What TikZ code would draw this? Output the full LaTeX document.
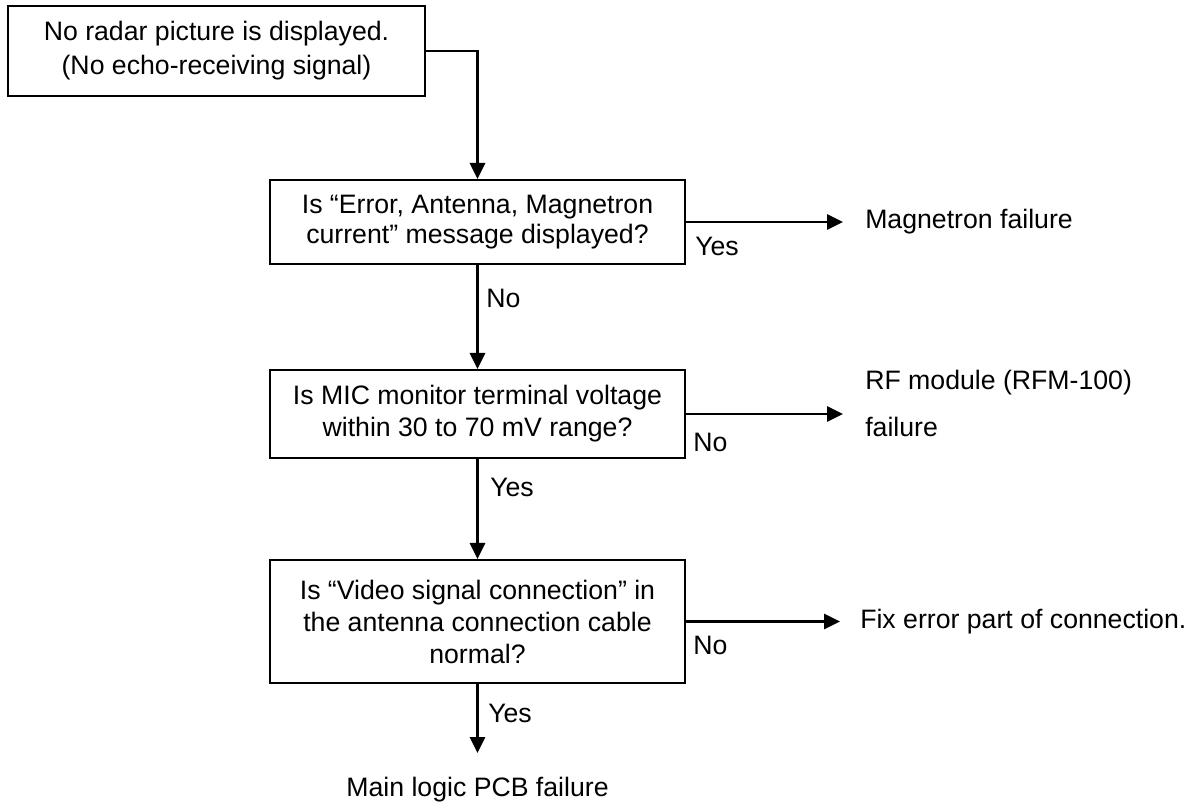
\documentclass[tikz,border=0pt]{standalone}
\usepackage{fontspec}
\setmainfont{Liberation Sans}
\usetikzlibrary{arrows.meta}
\begin{document}
\begin{tikzpicture}[x=0.75pt,y=-0.75pt,
  every node/.style={font=\fontsize{20}{24}\selectfont},
  box/.style={draw, line width=1.6pt, align=center, inner sep=0pt},
  arr/.style={line width=1.6pt, -{Triangle[length=12pt,width=11.5pt]}},
  lbl/.style={anchor=west, inner sep=0pt},
  rtext/.style={anchor=west, inner xsep=16.5pt, inner ysep=0pt, align=left}]
\useasboundingbox (0,0) rectangle (1196,805);
\node[box, minimum width=312.75pt, minimum height=67.5pt, font=\fontsize{20}{25.5}\selectfont] (b1) at (216.5,51)
  {No radar picture is displayed.\\(No echo-receiving signal)};
\node[box, minimum width=311.25pt, minimum height=63pt, font=\fontsize{20}{22.5}\selectfont] (b2) at (477.5,222)
  {Is “Error, Antenna, Magnetron\\current” message displayed?};
\node[box, minimum width=311.25pt, minimum height=66pt] (b3) at (477.5,414)
  {Is MIC monitor terminal voltage\\within 30 to 70 mV range?};
\node[box, minimum width=311.25pt, minimum height=92.25pt] (b4) at (477.5,621.5)
  {Is “Video signal connection” in\\the antenna connection cable\\normal?};
\node[rtext] (t1) at (843,222) {Magnetron failure};
\node[rtext, font=\fontsize{20}{35.25}\selectfont] (t2) at (843,403.5) {RF module (RFM-100)\\failure};
\node[rtext, inner xsep=15pt] (t3) at (840,621.5) {Fix error part of connection.};
\node[anchor=north, inner xsep=0pt, inner ysep=18pt] (t4) at (477.5,753) {Main logic PCB failure};
\draw[arr] (b1.east) -| (b2.north);
\draw[arr] (b2.east) -- (b2.east -| t1.west);
\draw[arr] (b2.south) -- (b3.north);
\draw[arr] (b3.east) -- (b3.east -| t2.west);
\draw[arr] (b3.south) -- (b4.north);
\draw[arr] (b4.east) -- (b4.east -| t3.west);
\draw[arr] (b4.south) -- (t4.north);
\node[lbl] (l1) at (695,246) {Yes};
\node[lbl] (l2) at (486,298) {No};
\node[lbl] (l3) at (693,442) {No};
\node[lbl] (l4) at (490,487) {Yes};
\node[lbl] (l5) at (693,645) {No};
\node[lbl] (l6) at (488,713) {Yes};
\end{tikzpicture}
\end{document}
